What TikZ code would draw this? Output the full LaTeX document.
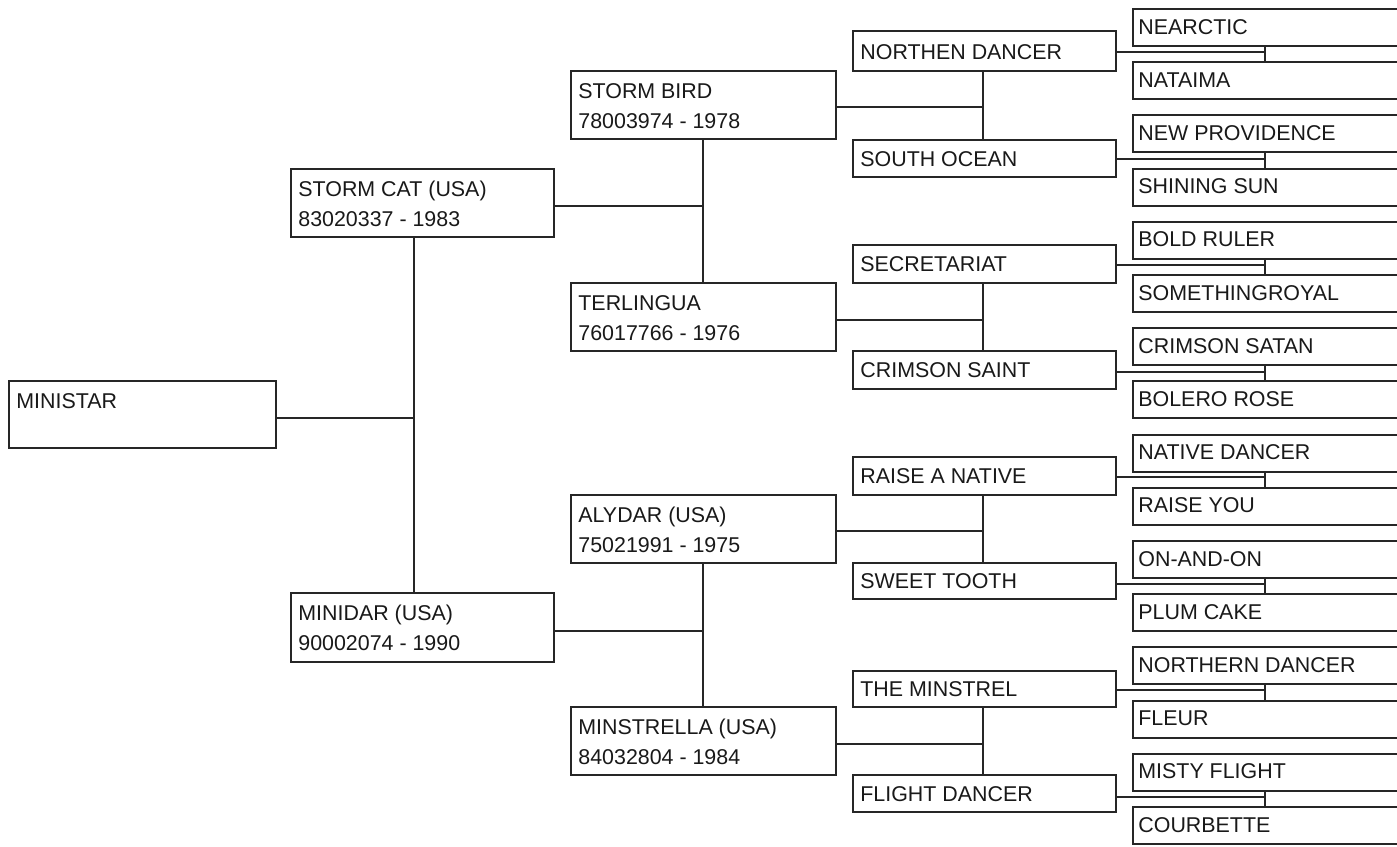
\documentclass[tikz,border=0pt]{standalone}
\usepackage{fontspec}
\setmainfont{Liberation Sans}
\usetikzlibrary{calc}
\tikzset{
  pbox/.style={draw=black!85, line width=1pt, fill=white, rectangle, inner sep=0pt},
  ptext/.style={inner sep=0pt, font=\fontsize{10.7}{15}\selectfont, text=black!90},
  link/.style={draw=black!85, line width=1pt},
}
% name x y w h dx dy text
\newcommand{\pbx}[8]{%
  \node[pbox, minimum width=#4*0.5pt, minimum height=#5*0.5pt, anchor=north west] (#1) at (#2,#3) {};
  \node[ptext, anchor=base west] (#1-a) at ($(#1.north west)+(#6,#7)$) {#8};}
\newcommand{\pln}[2]{\node[ptext, anchor=base west] (#1-b) at ($(#1-a.base west)+(0,30)$) {#2};}
\begin{document}
\begin{tikzpicture}[x=0.5pt,y=-0.5pt]
\useasboundingbox (0,0) rectangle (1397,846);
\fill[white] (0,0) rectangle (1397,846);
\clip (0,0) rectangle (1397,846);

% generation 0
\pbx{ministar}{8}{380}{267}{67}{8}{28}{MINISTAR}
% generation 1
\pbx{sc}{290}{168}{263}{68}{8}{28}{STORM CAT (USA)}\pln{sc}{83020337 - 1983}
\pbx{md}{290}{592}{263}{69}{8}{28}{MINIDAR (USA)}\pln{md}{90002074 - 1990}
% generation 2
\pbx{sb}{570}{70}{265}{68}{8}{28}{STORM BIRD}\pln{sb}{78003974 - 1978}
\pbx{te}{570}{282}{265}{68}{8}{28}{TERLINGUA}\pln{te}{76017766 - 1976}
\pbx{al}{570}{494}{265}{68}{8}{28}{ALYDAR (USA)}\pln{al}{75021991 - 1975}
\pbx{mi}{570}{706}{265}{68}{8}{28}{MINSTRELLA (USA)}\pln{mi}{84032804 - 1984}
% generation 3
\pbx{nd}{852}{30}{263}{40}{8}{29}{NORTHEN DANCER}
\pbx{so}{852}{139}{263}{37}{8}{27}{SOUTH OCEAN}
\pbx{se}{852}{244}{263}{38}{8}{27}{SECRETARIAT}
\pbx{cs}{852}{350}{263}{38}{8}{27}{CRIMSON SAINT}
\pbx{ra}{852}{456}{263}{38}{8}{27}{RAISE A NATIVE}
\pbx{st}{852}{562}{263}{36}{8}{26}{SWEET TOOTH}
\pbx{tm}{852}{670}{263}{36}{8}{26}{THE MINSTREL}
\pbx{fd}{852}{774}{263}{37}{8}{27}{FLIGHT DANCER}
% generation 4
\pbx{g0}{1132}{8}{265}{37}{6}{26}{NEARCTIC}
\pbx{g1}{1132}{61.2}{265}{37}{6}{26}{NATAIMA}
\pbx{g2}{1132}{114.4}{265}{37}{6}{26}{NEW PROVIDENCE}
\pbx{g3}{1132}{167.6}{265}{37}{6}{26}{SHINING SUN}
\pbx{g4}{1132}{220.8}{265}{37}{6}{26}{BOLD RULER}
\pbx{g5}{1132}{274}{265}{37}{6}{26}{SOMETHINGROYAL}
\pbx{g6}{1132}{327.2}{265}{37}{6}{26}{CRIMSON SATAN}
\pbx{g7}{1132}{380.4}{265}{37}{6}{26}{BOLERO ROSE}
\pbx{g8}{1132}{433.6}{265}{37}{6}{26}{NATIVE DANCER}
\pbx{g9}{1132}{486.8}{265}{37}{6}{26}{RAISE YOU}
\pbx{g10}{1132}{540}{265}{37}{6}{26}{ON-AND-ON}
\pbx{g11}{1132}{593.2}{265}{37}{6}{26}{PLUM CAKE}
\pbx{g12}{1132}{646.4}{265}{37}{6}{26}{NORTHERN DANCER}
\pbx{g13}{1132}{699.6}{265}{37}{6}{26}{FLEUR}
\pbx{g14}{1132}{752.8}{265}{37}{6}{26}{MISTY FLIGHT}
\pbx{g15}{1132}{806}{265}{37}{6}{26}{COURBETTE}

% junctions gen0 -> gen1
\coordinate (j0) at (414,418);
\draw[link] (ministar.east |- j0) -- (j0);
\draw[link] (sc.south -| j0) -- (md.north -| j0);
% gen1 -> gen2
\coordinate (j1) at (703,206);
\draw[link] (sc.east |- j1) -- (j1);
\draw[link] (sb.south -| j1) -- (te.north -| j1);
\coordinate (j2) at (703,631);
\draw[link] (md.east |- j2) -- (j2);
\draw[link] (al.south -| j2) -- (mi.north -| j2);
% gen2 -> gen3
\coordinate (j3) at (983,107);
\draw[link] (sb.east |- j3) -- (j3);
\draw[link] (nd.south -| j3) -- (so.north -| j3);
\coordinate (j4) at (983,320);
\draw[link] (te.east |- j4) -- (j4);
\draw[link] (se.south -| j4) -- (cs.north -| j4);
\coordinate (j5) at (983,531);
\draw[link] (al.east |- j5) -- (j5);
\draw[link] (ra.south -| j5) -- (st.north -| j5);
\coordinate (j6) at (983,744);
\draw[link] (mi.east |- j6) -- (j6);
\draw[link] (tm.south -| j6) -- (fd.north -| j6);
% gen3 -> gen4
\coordinate (k0) at (1265,52);
\draw[link] (nd.east |- k0) -- (k0);
\draw[link] (g0.south -| k0) -- (g1.north -| k0);
\coordinate (k1) at (1265,159);
\draw[link] (so.east |- k1) -- (k1);
\draw[link] (g2.south -| k1) -- (g3.north -| k1);
\coordinate (k2) at (1265,265);
\draw[link] (se.east |- k2) -- (k2);
\draw[link] (g4.south -| k2) -- (g5.north -| k2);
\coordinate (k3) at (1265,372);
\draw[link] (cs.east |- k3) -- (k3);
\draw[link] (g6.south -| k3) -- (g7.north -| k3);
\coordinate (k4) at (1265,477);
\draw[link] (ra.east |- k4) -- (k4);
\draw[link] (g8.south -| k4) -- (g9.north -| k4);
\coordinate (k5) at (1265,584);
\draw[link] (st.east |- k5) -- (k5);
\draw[link] (g10.south -| k5) -- (g11.north -| k5);
\coordinate (k6) at (1265,690);
\draw[link] (tm.east |- k6) -- (k6);
\draw[link] (g12.south -| k6) -- (g13.north -| k6);
\coordinate (k7) at (1265,797);
\draw[link] (fd.east |- k7) -- (k7);
\draw[link] (g14.south -| k7) -- (g15.north -| k7);
\end{tikzpicture}
\end{document}
